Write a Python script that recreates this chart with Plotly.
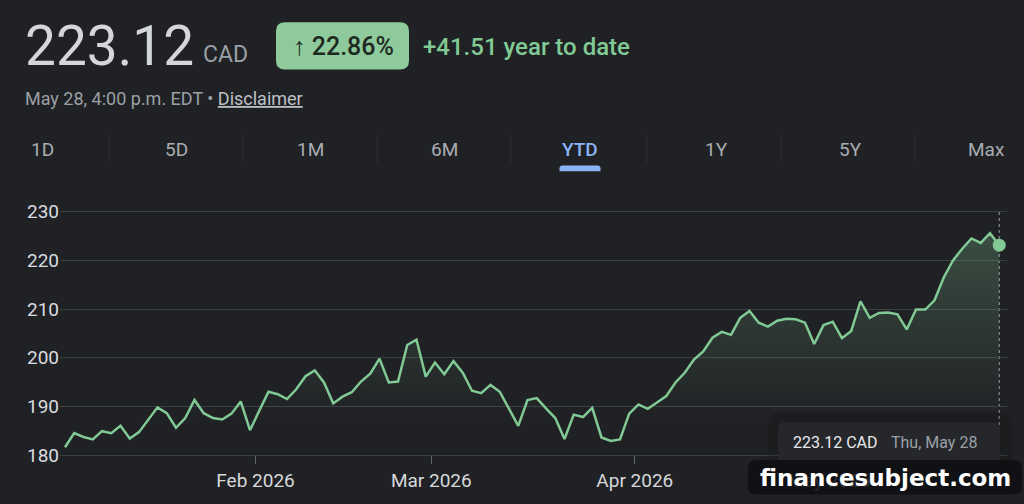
import pandas as pd
import plotly.graph_objects as go

# ---------------- data ----------------
PREV_CLOSE = 181.61
CURRENCY = "CAD"
HOLIDAYS = ["2026-02-16", "2026-04-03", "2026-05-18"]
START, END = "2026-01-02", "2026-05-28"
CLOSE = [
    181.6, 184.5, 183.7, 183.2, 184.9, 184.5, 186.0, 183.4, 184.7, 187.2,
    189.8, 188.6, 185.6, 187.6, 191.3, 188.6, 187.6, 187.3, 188.5, 191.0,
    185.1, 189.1, 193.0, 192.5, 191.5, 193.5, 196.2, 197.4, 194.9, 190.6,
    192.0, 192.9, 195.1, 196.7, 199.8, 194.9, 195.1, 202.6, 203.7, 196.1,
    199.0, 196.6, 199.3, 196.9, 193.2, 192.7, 194.4, 193.0, 189.5, 186.0,
    191.3, 191.7, 189.6, 187.6, 183.3, 188.3, 187.8, 189.7, 183.6, 182.9,
    183.2, 188.5, 190.4, 189.5, 190.8, 192.1, 194.9, 196.9, 199.6, 201.3,
    204.1, 205.3, 204.7, 208.2, 209.6, 207.2, 206.4, 207.6, 208.0, 207.9,
    207.2, 202.8, 206.7, 207.4, 204.0, 205.5, 211.6, 208.2, 209.2, 209.3,
    208.9, 205.8, 209.9, 209.9, 211.8, 216.5, 220.0, 222.4, 224.5, 223.6,
    225.6, 223.12,
]
TICK_MONTHS = ["2026-02", "2026-03", "2026-04", "2026-05"]
Y_TICKS = [180, 190, 200, 210, 220, 230]
TABS = ["1D", "5D", "1M", "6M", "YTD", "1Y", "5Y", "Max"]
ACTIVE_TAB = "YTD"

# ---------------- derived ----------------
days = pd.bdate_range(START, END)
days = days[~days.isin(pd.to_datetime(HOLIDAYS))]
assert len(days) == len(CLOSE), (len(days), len(CLOSE))
idx = list(range(len(days)))
tickvals, ticktext = [], []
for m in TICK_MONTHS:
    ms = pd.Timestamp(m + "-01")
    first = int((days < ms).sum())
    tickvals.append(first - 0.4)
    ticktext.append(ms.strftime("%b %Y"))

last = CLOSE[-1]
chg = last - PREV_CLOSE
pct = chg / PREV_CLOSE * 100

# ---------------- geometry ----------------
W, H = 1024, 504
PL, PR, PT, PB = 60, 1007, 202, 458
BG = "#202124"
GREEN = "#81c995"
GRID = "#3c4043"
FONT = "Roboto"


def px(x):
    return (x - PL) / (PR - PL)


def py(y):
    return (PB - y) / (PB - PT)


def rrect(x0, y0, x1, y1, r, rb=None):
    rb = r if rb is None else rb

    def P(x, y):
        return f"{px(x):.5f},{py(y):.5f}"
    d = (f"M{P(x0 + r, y0)} L{P(x1 - r, y0)} Q{P(x1, y0)} {P(x1, y0 + r)} "
         f"L{P(x1, y1 - rb)} Q{P(x1, y1)} {P(x1 - rb, y1)} L{P(x0 + rb, y1)} "
         f"Q{P(x0, y1)} {P(x0, y1 - rb)} L{P(x0, y0 + r)} Q{P(x0, y0)} {P(x0 + r, y0)} Z")
    return d


fig = go.Figure()
fig.add_trace(go.Scatter(
    x=idx, y=CLOSE, mode="lines",
    line=dict(color=GREEN, width=2.5),
    fill="tozeroy",
    fillgradient=dict(type="vertical",
                      colorscale=[[0, "rgba(129,201,149,0)"], [1, "rgba(129,201,149,0.27)"]],
                      start=188, stop=226),
    hoverinfo="skip", showlegend=False,
))
fig.add_trace(go.Scatter(
    x=[idx[-1]], y=[last], mode="markers",
    marker=dict(color=GREEN, size=13),
    hoverinfo="skip", showlegend=False,
))

shapes = []
ann = []

# cursor line
shapes.append(dict(type="line", xref="x", yref="y", x0=idx[-1], x1=idx[-1], y0=180, y1=230,
                   line=dict(color="#9aa0a6", width=1, dash="dot"), layer="below"))

# header
ann.append(dict(x=px(23), y=py(44), xanchor="left", yanchor="middle",
                text=f"{last:.2f}", font=dict(family=FONT, size=55, color="#d4d6d9")))
ann.append(dict(x=px(201), y=py(53), xanchor="left", yanchor="middle",
                text=CURRENCY, font=dict(family=FONT, size=23, color="#9aa0a6")))
shapes.append(dict(type="path", xref="paper", yref="paper", path=rrect(276, 20, 409, 68, 9),
                   fillcolor="#8fca9c", line=dict(width=0)))
ann.append(dict(x=px(343), y=py(45), xanchor="center", yanchor="middle",
                text=f"↑ {pct:.2f}%", font=dict(family=FONT, size=25, color="#1e2a21", weight=500)))
ann.append(dict(x=px(421), y=py(45), xanchor="left", yanchor="middle",
                text=f"+{chg:.2f} year to date", font=dict(family=FONT, size=24, color=GREEN, weight=500)))
ann.append(dict(x=px(23), y=py(97), xanchor="left", yanchor="middle",
                text=f"{days[-1].strftime('%b')} {days[-1].day}, 4:00 p.m. EDT • "
                     f"<span style='color:#bdc1c6'><u>Disclaimer</u></span>",
                font=dict(family=FONT, size=18, color="#9aa0a6")))

# tabs
tab_cx = [42, 176, 310, 444, 580, 716, 850, 986]
for i, (t, cx) in enumerate(zip(TABS, tab_cx)):
    active = t == ACTIVE_TAB
    ann.append(dict(x=px(cx), y=py(149), xanchor="center", yanchor="middle", text=t,
                    font=dict(family=FONT, size=19, color="#8ab4f8" if active else "#a9adb2",
                              weight=500 if active else 400)))
    if active:
        shapes.append(dict(type="path", xref="paper", yref="paper",
                           path=rrect(cx - 20.5, 165, cx + 20.5, 171, 3, 0.01),
                           fillcolor="#8ab4f8", line=dict(width=0)))
for sx in [109, 243, 377, 511, 647, 781, 915]:
    shapes.append(dict(type="line", xref="paper", yref="paper", x0=px(sx), x1=px(sx),
                       y0=py(133), y1=py(162), line=dict(color="#303134", width=1)))

# tooltip
shapes.append(dict(type="path", xref="paper", yref="paper", path=rrect(768, 414, 1012, 472, 16),
                   fillcolor="rgba(0,0,0,0.12)", line=dict(width=0)))
shapes.append(dict(type="path", xref="paper", yref="paper", path=rrect(778, 425, 1000, 466, 6),
                   fillcolor="#26272b", line=dict(width=0)))
ann.append(dict(x=px(791), y=py(445), xanchor="left", yanchor="middle",
                text=f"{last:.2f} {CURRENCY}", font=dict(family=FONT, size=16, color="#e8eaed")))
ann.append(dict(x=px(889), y=py(445), xanchor="left", yanchor="middle",
                text=f"{days[-1].strftime('%a, %b')} {days[-1].day}",
                font=dict(family=FONT, size=16, color="#9aa0a6")))

# watermark
shapes.append(dict(type="path", xref="paper", yref="paper", path=rrect(748, 463, 1022, 498, 8),
                   fillcolor="rgba(14,15,17,0.86)", line=dict(width=0)))
ann.append(dict(x=px(885), y=py(481), xanchor="center", yanchor="middle",
                text="<b>financesubject.com</b>",
                font=dict(family="DejaVu Sans", size=23, color="#ffffff")))

for a in ann:
    a.update(xref="paper", yref="paper", showarrow=False)

fig.update_layout(
    width=W, height=H,
    margin=dict(l=PL, r=W - PR, t=PT, b=H - PB, pad=0),
    paper_bgcolor=BG, plot_bgcolor=BG,
    shapes=shapes, annotations=ann,
    showlegend=False,
    xaxis=dict(range=[-0.54, 101.84], tickvals=tickvals, ticktext=ticktext,
               showgrid=False, zeroline=False, showline=True, linecolor=GRID, linewidth=1,
               ticks="outside", ticklen=8, tickcolor="#5f6368", tickwidth=1,
               tickfont=dict(family=FONT, size=19, color="#d6d8db")),
    yaxis=dict(range=[180, 232], tickvals=Y_TICKS, showgrid=True, gridcolor=GRID, gridwidth=1,
               zeroline=False, showline=False, ticks="",
               tickfont=dict(family=FONT, size=19, color="#dadce0")),
)

fig.write_html("out.html")
